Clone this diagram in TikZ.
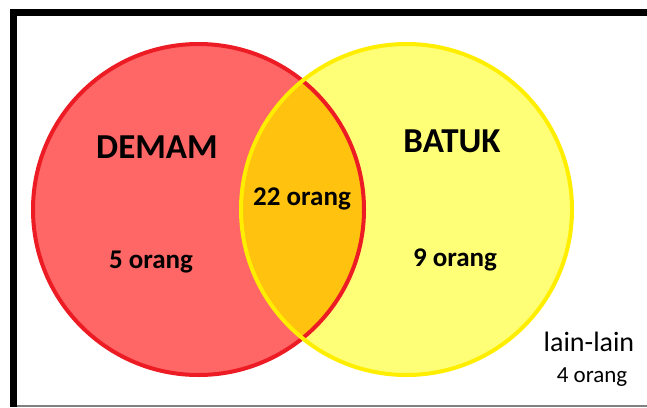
\documentclass[tikz,border=0pt]{standalone}
\usepackage{fontspec}
\setmainfont{Carlito}
\usepackage{tikz}
\usetikzlibrary{positioning}

\definecolor{demamfill}{RGB}{255,102,102}
\definecolor{demamline}{RGB}{237,28,36}
\definecolor{batukfill}{RGB}{255,255,119}
\definecolor{batukline}{RGB}{255,238,0}
\definecolor{bothfill}{RGB}{255,194,14}

\begin{document}
\begin{tikzpicture}[x=1pt, y=-1pt,
    setcircle/.style={circle, minimum size=331pt, inner sep=0pt, line width=4pt},
    setname/.style={font=\bfseries\fontsize{35}{38}\selectfont},
    count/.style={font=\bfseries\fontsize{27}{30}\selectfont}]
    \useasboundingbox (0,0) rectangle (647,407);
    \fill[white] (0,0) rectangle (647,407);

    % the two sets
    \node (demam) [setcircle, fill=demamfill] at (198.5,209.5) {};
    \node (batuk) [setcircle, fill=batukfill] at (406.5,209.5) {};
    \begin{scope}
        \clip (demam.center) circle[radius=165.5pt];
        \fill[bothfill] (batuk.center) circle[radius=165.5pt];
    \end{scope}
    \draw[demamline, line width=4pt] (demam.center) circle[radius=165.5pt];
    \draw[batukline, line width=4pt] (batuk.center) circle[radius=165.5pt];

    % labels
    \node (demamName) [setname] at (157,147) {DEMAM};
    \node (batukName) [setname] at (452,141) {BATUK};
    \node (demamOnly) [count] at (151,262) {5 orang};
    \node (bothCount) [count] at (302,199) {22 orang};
    \node (batukOnly) [count] at (455,260) {9 orang};
    \node (lainlain) [font=\fontsize{28}{30}\selectfont] at (589,342) {lain-lain};
    \node (lainCount) [font=\fontsize{23}{25}\selectfont] at (592,377) {4 orang};

    % frame
    \draw[black, line width=7pt] (647,12.5) -- (13.5,12.5) -- (13.5,407);
    \draw[gray, line width=1.5pt] (17,406) -- (647,406);
\end{tikzpicture}
\end{document}
